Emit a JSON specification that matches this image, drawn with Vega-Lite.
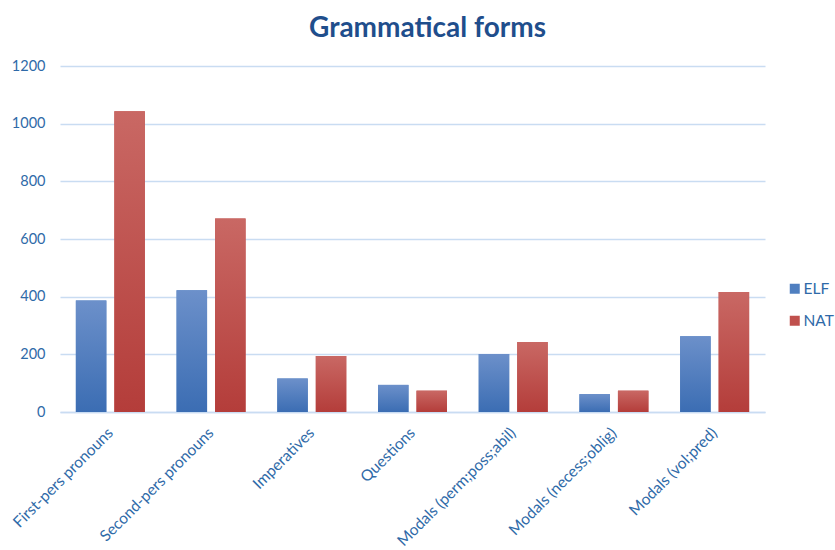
{
  "$schema": "https://vega.github.io/schema/vega-lite/v6.json",
  "width": 705,
  "height": 346,
  "autosize": {"type": "none"},
  "padding": {"left": 60, "top": 66, "right": 70, "bottom": 138},
  "background": "white",
  "view": {"stroke": null},
  "title": {
    "text": "Grammatical forms",
    "font": "Lato",
    "fontSize": 28,
    "fontWeight": "bold",
    "color": "#1f4e8c",
    "anchor": "middle",
    "dx": 15,
    "offset": 15
  },
  "data": {
    "values": [
      {"form": "First-pers pronouns", "group": "ELF", "count": 387},
      {"form": "First-pers pronouns", "group": "NAT", "count": 1043},
      {"form": "Second-pers pronouns", "group": "ELF", "count": 422},
      {"form": "Second-pers pronouns", "group": "NAT", "count": 671},
      {"form": "Imperatives", "group": "ELF", "count": 116},
      {"form": "Imperatives", "group": "NAT", "count": 194},
      {"form": "Questions", "group": "ELF", "count": 94},
      {"form": "Questions", "group": "NAT", "count": 74},
      {"form": "Modals (perm;poss;abil)", "group": "ELF", "count": 201},
      {"form": "Modals (perm;poss;abil)", "group": "NAT", "count": 243},
      {"form": "Modals (necess;oblig)", "group": "ELF", "count": 62},
      {"form": "Modals (necess;oblig)", "group": "NAT", "count": 74},
      {"form": "Modals (vol;pred)", "group": "ELF", "count": 263},
      {"form": "Modals (vol;pred)", "group": "NAT", "count": 416}
    ]
  },
  "encoding": {
    "x": {
      "field": "form",
      "type": "nominal",
      "sort": null,
      "scale": {"paddingInner": 0.315, "paddingOuter": 0.1575},
      "axis": {
        "title": null,
        "labelAngle": -45,
        "labelAlign": "right",
        "labelBaseline": "middle",
        "labelFont": "Lato",
        "labelFontSize": 15.5,
        "labelColor": "#2f6aa8",
        "labelPadding": 18,
        "ticks": false,
        "domainColor": "#c9dcf2",
        "domainWidth": 1.5,
        "grid": false,
        "labelLimit": 300
      }
    },
    "xOffset": {
      "field": "group",
      "type": "nominal",
      "scale": {"domain": ["ELF", "NAT"], "paddingInner": 0.208, "paddingOuter": 0}
    },
    "y": {
      "field": "count",
      "type": "quantitative",
      "scale": {"domain": [0, 1200]},
      "axis": {
        "title": null,
        "values": [0, 200, 400, 600, 800, 1000, 1200],
        "format": "d",
        "domain": false,
        "ticks": false,
        "labelFont": "Lato",
        "labelFontSize": 14.5,
        "labelColor": "#2f6aa8",
        "labelPadding": 15,
        "gridColor": "#c9dcf2",
        "gridWidth": 1.5
      }
    }
  },
  "layer": [
    {
      "mark": {"type": "bar"},
      "encoding": {
        "color": {
          "field": "group",
          "type": "nominal",
          "scale": {"domain": ["ELF", "NAT"], "range": ["#4f7fc0", "#c0504d"]},
          "legend": {
            "title": null,
            "orient": "none",
            "legendX": 727,
            "legendY": 215,
            "symbolType": "square",
            "symbolSize": 100,
            "labelFont": "Lato",
            "labelFontSize": 15.5,
            "labelColor": "#2f6aa8",
            "rowPadding": 15,
            "labelOffset": 1
          }
        }
      }
    },
    {
      "transform": [{"filter": "datum.group === 'ELF'"}],
      "mark": {
        "type": "bar",
        "fill": {
          "gradient": "linear",
          "x1": 0, "y1": 0, "x2": 0, "y2": 1,
          "stops": [
            {"offset": 0, "color": "#6c90ca"},
            {"offset": 1, "color": "#3b6db3"}
          ]
        }
      }
    },
    {
      "transform": [{"filter": "datum.group === 'NAT'"}],
      "mark": {
        "type": "bar",
        "fill": {
          "gradient": "linear",
          "x1": 0, "y1": 0, "x2": 0, "y2": 1,
          "stops": [
            {"offset": 0, "color": "#c96864"},
            {"offset": 1, "color": "#b43d3a"}
          ]
        }
      }
    }
  ]
}
